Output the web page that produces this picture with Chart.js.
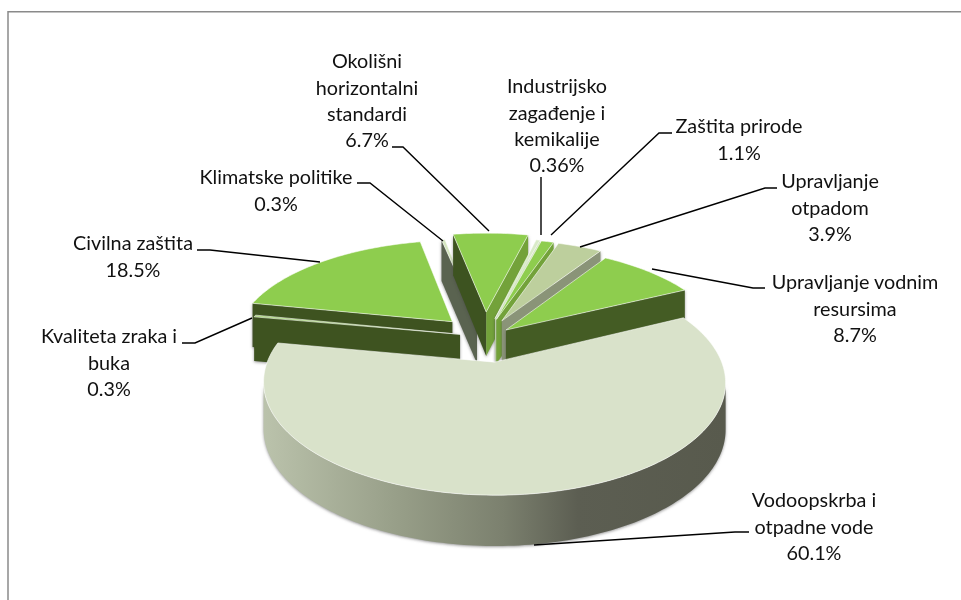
<!DOCTYPE html>
<html>
<head>
<meta charset="utf-8">
<style>html,body{margin:0;padding:0;background:#fff}canvas{display:block}</style>
<script src="https://cdn.jsdelivr.net/npm/chart.js@4/dist/chart.umd.min.js"></script>
</head>
<body>
<canvas id="c" width="961" height="600"></canvas>
<script>
// ---- data ----
const categories = [
  "Vodoopskrba i|otpadne vode",
  "Kvaliteta zraka i|buka",
  "Civilna zaštita",
  "Klimatske politike",
  "Okolišni|horizontalni|standardi",
  "Industrijsko|zagađenje i|kemikalije",
  "Zaštita prirode",
  "Upravljanje|otpadom",
  "Upravljanje vodnim|resursima"
];
const shares = [60.1, 0.3, 18.5, 0.3, 6.7, 0.36, 1.1, 3.9, 8.7];

// ---- styles ----
const explode = [56, 34, 52, 44, 61, 46, 44, 43, 25];           // slice explosion
const nudgeU  = [0.011, 0.03, 0.006, 0, 0, 0, 0, 0, 0.018];     // fine horizontal placement
const topColors = ["#d9e2ca","#a9d77a","#8ecd4e","#d5e6c0","#8ecd4e","#d9ebc8","#8ecd4e","#bdcf9d","#8ecd4e"];
const startWall = ["#585a4e","#3e5320","#3e5320","#5a6350","#3d5320","#cfe2ba","#73a23a","#8a9478","#445c24"];
const endWall   = ["#585a4e","#3e5320","#3e5320","#5a6350","#73a23a","#cfe2ba","#73a23a","#8a9478","#445c24"];
const arcWall   = ["big","#3e5320","#3e5320","#5a6350","#3d5320","#cfe2ba","#73a23a","#8a9478","#445c24"];
const drawOrder = [2,3,4,5,6,7,8,1,0];
const labelCenterX = [814,109,133,276,367,557,739,830,855];
const labelFirstY  = [501,337,244,178,62,87,127,182,283];
const leaders = [
  [[749,532],[735,532],[534,545]],
  [[182,343],[195,343],[252,318]],
  [[197,250],[210,250],[320,262]],
  [[357,183],[370,183],[443,241]],
  [[392,147],[403,147],[489,231]],
  [[541,177],[541,235]],
  [[672,133],[659,133],[551,235]],
  [[777,188],[765,188],[580,247]],
  [[765,288],[753,288],[652,269]]
];
const LINE_H = 26.2;
const FONT = '19.8px Lato';
const OFFSET_UNIT = 232;

// ---- perspective of the pie plane ----
const P = {ox:489.5, oy:362, a:227.2, b:109.06, k:0.18, tu:-0.022, tv:-0.238};
function project(u, v){
  u += P.tu; v += P.tv;
  const w = 1 - P.k * v;
  return {x: P.ox + P.a * u / w, y: P.oy + P.b * v / w, h: 46 / Math.sqrt(w)};
}

const pie3d = {
  id: 'pie3d',
  beforeDatasetsDraw(chart){
    const ctx = chart.ctx;
    const meta = chart.getDatasetMeta(0);
    drawOrder.forEach(i => drawSlice(ctx, meta.data[i], i));
    return false;
  },
  afterDraw(chart){
    const ctx = chart.ctx;
    // frame
    ctx.save();
    ctx.strokeStyle = '#8a8a8a';
    ctx.lineWidth = 1.5;
    ctx.beginPath();
    ctx.moveTo(8, 600); ctx.lineTo(8, 11.7); ctx.lineTo(961, 11.7);
    ctx.stroke();
    // leaders
    ctx.strokeStyle = '#000';
    ctx.lineWidth = 1.4;
    leaders.forEach(l => {
      ctx.beginPath();
      l.forEach((p, j) => j ? ctx.lineTo(p[0], p[1]) : ctx.moveTo(p[0], p[1]));
      ctx.stroke();
    });
    // labels
    ctx.fillStyle = '#111';
    ctx.font = FONT;
    ctx.fontKerning = 'normal';
    ctx.textAlign = 'center';
    ctx.textBaseline = 'middle';
    categories.forEach((c, i) => {
      const lines = c.split('|').concat(shares[i] + '%');
      lines.forEach((t, j) => ctx.fillText(t, labelCenterX[i], labelFirstY[i] + j * LINE_H));
    });
    ctx.restore();
  }
};

function drawSlice(ctx, el, i){
  const s = el.startAngle, e = el.endAngle, mid = (s + e) / 2;
  const f = el.options.offset / OFFSET_UNIT;
  const du = Math.cos(mid) * f + nudgeU[i], dv = Math.sin(mid) * f;
  const apex = project(du, dv);
  const arc = [];
  const n = Math.max(2, Math.ceil((e - s) / 0.02));
  for (let j = 0; j <= n; j++){
    const a = s + (e - s) * j / n;
    arc.push(project(du + Math.cos(a), dv + Math.sin(a)));
  }
  ctx.save();
  ctx.shadowColor = 'rgba(70,70,70,0.55)';
  ctx.shadowBlur = 3;
  ctx.shadowOffsetY = 1;
  const wall = (pts, color) => {
    ctx.beginPath();
    pts.forEach((p, j) => j ? ctx.lineTo(p.x, p.y) : ctx.moveTo(p.x, p.y));
    for (let j = pts.length - 1; j >= 0; j--) ctx.lineTo(pts[j].x, pts[j].y + pts[j].h);
    ctx.closePath();
    ctx.fillStyle = color;
    ctx.fill();
  };
  // arc wall: only the runs moving leftwards face the viewer
  let fill = arcWall[i];
  if (fill === 'big'){
    const g = ctx.createLinearGradient(265, 0, 725, 0);
    g.addColorStop(0, '#bac2ab');
    g.addColorStop(0.30, '#969d87');
    g.addColorStop(0.52, '#7b806e');
    g.addColorStop(0.68, '#5c5e52');
    g.addColorStop(1, '#585a4d');
    fill = g;
  }
  let run = [];
  for (let j = 1; j < arc.length; j++){
    if (arc[j].x < arc[j-1].x){
      if (!run.length) run.push(arc[j-1]);
      run.push(arc[j]);
    } else if (run.length){ wall(run, fill); run = []; }
  }
  if (run.length) wall(run, fill);
  // radial walls
  if (arc[0].x < apex.x) wall([apex, arc[0]], startWall[i]);
  if (apex.x < arc[n].x) wall([arc[n], apex], endWall[i]);
  ctx.restore();
  // top face
  ctx.beginPath();
  ctx.moveTo(apex.x, apex.y);
  arc.forEach(p => ctx.lineTo(p.x, p.y));
  ctx.closePath();
  ctx.fillStyle = topColors[i];
  ctx.fill();
  ctx.strokeStyle = 'rgba(255,255,255,0.7)';
  ctx.lineWidth = 0.8;
  ctx.stroke();
}

new Chart(document.getElementById('c'), {
  type: 'pie',
  data: {
    labels: categories.map(c => c.replace(/\|/g, ' ')),
    datasets: [{data: shares, offset: explode, hoverOffset: 0, borderWidth: 0, backgroundColor: topColors}]
  },
  options: {
    responsive: false,
    animation: false,
    rotation: 64,
    plugins: {legend: {display: false}, tooltip: {enabled: false}}
  },
  plugins: [pie3d]
});
</script>
</body>
</html>
